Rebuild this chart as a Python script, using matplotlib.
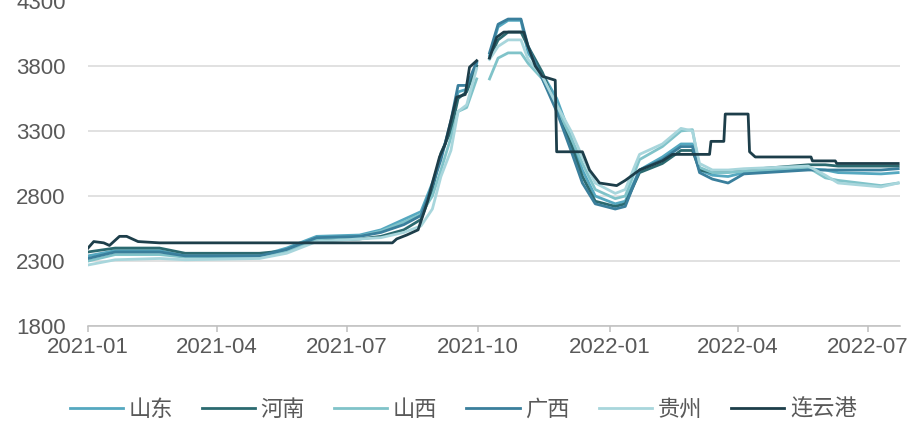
import numpy as np
import pandas as pd
import matplotlib
matplotlib.use("Agg")
import matplotlib.pyplot as plt
import matplotlib.dates as mdates

plt.rcParams['font.family'] = ['Liberation Sans', 'Noto Sans CJK SC', 'DejaVu Sans']

# provincial price series share one set of dates (NaN = holiday gap)
dates = ["2021-01-01", "2021-01-20", "2021-02-20", "2021-03-10", "2021-05-01", "2021-05-20",
         "2021-06-10", "2021-07-10", "2021-07-25", "2021-08-10", "2021-08-22", "2021-08-30",
         "2021-09-05", "2021-09-12", "2021-09-17", "2021-09-23", "2021-09-30", "2021-10-04",
         "2021-10-09", "2021-10-15", "2021-10-22", "2021-10-31", "2021-11-05", "2021-11-15",
         "2021-11-25", "2021-12-05", "2021-12-13", "2021-12-22", "2022-01-05", "2022-01-12",
         "2022-01-22", "2022-02-07", "2022-02-20", "2022-02-28", "2022-03-05", "2022-03-14",
         "2022-03-25", "2022-04-05", "2022-05-20", "2022-06-01", "2022-06-10", "2022-07-10",
         "2022-07-22"]

shandong = [2340, 2380, 2380, 2340, 2340, 2400, 2490, 2500, 2540, 2620, 2680, 2900,
            3100, 3350, 3600, 3620, 3820, np.nan, 3880, 4100, 4150, 4150, 3900, 3740,
            3550, 3250, 3000, 2800, 2740, 2760, 3000, 3100, 3200, 3200, 3000, 2960,
            2950, 2980, 3010, 3000, 2980, 2970, 2980]
henan = [2370, 2400, 2400, 2360, 2360, 2380, 2460, 2470, 2490, 2540, 2620, 2850,
         3130, 3300, 3550, 3600, 3800, np.nan, 3860, 4000, 4060, 4060, 3950, 3750,
         3480, 3200, 2950, 2760, 2720, 2740, 2980, 3050, 3150, 3150, 3000, 2980,
         2990, 3000, 3040, 3040, 3030, 3030, 3030]
shanxi = [2300, 2350, 2350, 2330, 2330, 2370, 2470, 2490, 2530, 2600, 2660, 2800,
          3000, 3250, 3450, 3480, 3700, np.nan, 3700, 3860, 3900, 3900, 3820, 3700,
          3480, 3250, 3050, 2850, 2780, 2800, 3080, 3180, 3300, 3310, 3020, 2980,
          2980, 2990, 3020, 2940, 2920, 2880, 2900]
guangxi = [2320, 2370, 2370, 2340, 2340, 2390, 2480, 2490, 2520, 2580, 2650, 2880,
           3080, 3380, 3650, 3650, 3830, np.nan, 3900, 4120, 4160, 4160, 3950, 3700,
           3450, 3150, 2900, 2740, 2700, 2720, 3000, 3080, 3180, 3180, 2980, 2930,
           2900, 2970, 3000, 3000, 3000, 3000, 3010]
guizhou = [2270, 2310, 2320, 2310, 2320, 2360, 2450, 2470, 2480, 2520, 2570, 2700,
           2950, 3150, 3450, 3500, 3780, np.nan, 3850, 3950, 4000, 4000, 3850, 3720,
           3500, 3300, 3100, 2900, 2820, 2850, 3120, 3200, 3320, 3300, 3050, 3000,
           3000, 3010, 3030, 2960, 2900, 2870, 2900]

# port price has its own step dates
lyg_dates = ["2021-01-01", "2021-01-05", "2021-01-12", "2021-01-16", "2021-01-23", "2021-01-28",
             "2021-02-05", "2021-02-20", "2021-08-02", "2021-08-05", "2021-08-12", "2021-08-20",
             "2021-08-27", "2021-08-30", "2021-09-04", "2021-09-08", "2021-09-12", "2021-09-16",
             "2021-09-22", "2021-09-25", "2021-09-30", "2021-10-04", "2021-10-09", "2021-10-14",
             "2021-10-19", "2021-11-02", "2021-11-05", "2021-11-10", "2021-11-15", "2021-11-24",
             "2021-11-25", "2021-12-13", "2021-12-18", "2021-12-25", "2022-01-06", "2022-01-12",
             "2022-01-22", "2022-02-07", "2022-02-14", "2022-03-12", "2022-03-13", "2022-03-22",
             "2022-03-23", "2022-04-08", "2022-04-09", "2022-04-13", "2022-05-22", "2022-05-23",
             "2022-06-08", "2022-06-09", "2022-07-22"]
lianyungang = [2400, 2450, 2440, 2420, 2490, 2490, 2450, 2440, 2440, 2470, 2500, 2540,
               2770, 2900, 3100, 3200, 3380, 3560, 3580, 3790, 3840, np.nan, 3860, 4020,
               4060, 4060, 3950, 3800, 3720, 3690, 3140, 3140, 3000, 2900, 2880, 2920,
               3000, 3070, 3120, 3120, 3220, 3220, 3430, 3430, 3140, 3100, 3100, 3070,
               3070, 3050, 3050]

names = ["山东", "河南", "山西", "广西", "贵州", "连云港"]
colors = ["#55a8c0", "#2b6a70", "#80c3c9", "#3a7f9c", "#a8d6dc", "#1d3e4a"]

d = pd.to_datetime(dates)
series = [(d, shandong), (d, henan), (d, shanxi), (d, guangxi), (d, guizhou),
          (pd.to_datetime(lyg_dates), lianyungang)]

fig = plt.figure(figsize=(9.17, 4.23), dpi=100)
ax = fig.add_axes([0.096, 0.229, 0.885, 0.769])

for (x, y), name, c in zip(series, names, colors):
    ax.plot(x, y, color=c, lw=2.0, label=name, solid_joinstyle="round")

ax.set_ylim(1800, 4300)
ax.set_yticks([1800, 2300, 2800, 3300, 3800, 4300])
ax.set_xlim(pd.Timestamp("2021-01-01"), pd.Timestamp("2022-07-23"))
ax.xaxis.set_major_locator(mdates.MonthLocator(bymonth=[1, 4, 7, 10]))
ax.xaxis.set_major_formatter(mdates.DateFormatter("%Y-%m"))

ax.grid(axis="y", color="#d9d9d9", lw=1.1)
ax.get_ygridlines()[-1].set_visible(False)
ax.set_axisbelow(True)
for s in ["top", "right", "left"]:
    ax.spines[s].set_visible(False)
ax.spines["bottom"].set_color("#bfbfbf")
ax.spines["bottom"].set_linewidth(1.1)
ax.tick_params(axis="y", length=0, pad=16, labelsize=16, labelcolor="#595959")
ax.tick_params(axis="x", length=4, width=1.1, color="#bfbfbf", pad=4,
               labelsize=16, labelcolor="#595959")

fig.legend(loc="center", bbox_to_anchor=(0.505, 0.03), ncol=6, frameon=False,
           fontsize=16, handlelength=2.4, handletextpad=0.25, columnspacing=1.3,
           labelcolor="#595959")

fig.savefig("out.png", dpi=100)
